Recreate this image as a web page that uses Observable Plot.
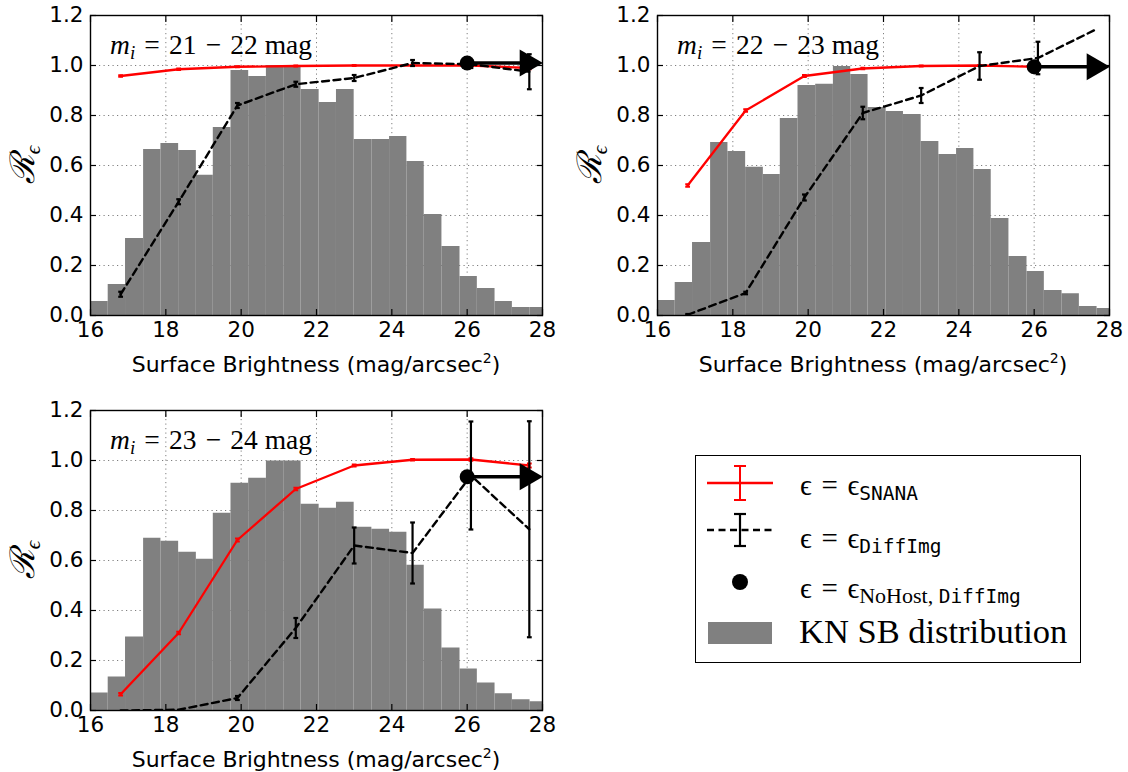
<!DOCTYPE html>
<html><head><meta charset="utf-8">
<script src="https://cdn.jsdelivr.net/npm/d3@7"></script>
<script src="https://cdn.jsdelivr.net/npm/@observablehq/plot@0.6"></script>
<style>
body{margin:0;background:#fff;}
#root{position:relative;width:1128px;height:772px;overflow:hidden;background:#fff;}
.panel{position:absolute;}
#legend{position:absolute;left:695px;top:455px;width:386px;height:208px;box-sizing:border-box;border:1.3px solid #000;background:#fff;}
</style></head>
<body><div id="root"></div>
<script>
// ---------- data ----------
const xTicks = [16, 18, 20, 22, 24, 26, 28];
const yTicks = [0, 0.2, 0.4, 0.6, 0.8, 1.0, 1.2];
const binEdges = [16.0,16.47,16.93,17.41,17.87,18.34,18.81,19.26,19.73,20.2,20.67,21.13,21.59,22.07,22.53,23.0,23.47,23.94,24.4,24.86,25.33,25.81,26.27,26.74,27.2,27.67,28.13];
const hist1 = [0.056,0.124,0.308,0.664,0.688,0.66,0.561,0.752,0.98,0.956,1.0,1.0,0.904,0.852,0.904,0.704,0.704,0.716,0.616,0.404,0.276,0.156,0.108,0.056,0.032,0.032];
const hist2 = [0.06,0.132,0.292,0.692,0.656,0.593,0.564,0.788,0.92,0.925,0.996,0.964,0.832,0.816,0.804,0.696,0.644,0.668,0.584,0.388,0.236,0.176,0.1,0.087,0.036,0.028];
const hist3 = [0.07,0.134,0.294,0.689,0.677,0.633,0.605,0.789,0.909,0.929,0.998,0.998,0.825,0.809,0.833,0.733,0.725,0.713,0.581,0.406,0.25,0.166,0.11,0.067,0.043,0.035];
const sbPoints = [16.8, 18.34, 19.9, 21.45, 23.0, 24.55, 26.1, 27.65];
const snana1 = [0.958,0.985,0.995,0.998,1.0,1.0,1.0,0.99];
const snanaErr1 = [0.003,0.003,0.002,0.002,0.002,0.002,0.003,0.005];
const diff1 = [0.085,0.455,0.84,0.925,0.95,1.01,1.005,0.975];
const diffErr1 = [0.01,0.01,0.01,0.01,0.012,0.012,0.015,0.07];
const snana2 = [0.52,0.82,0.958,0.988,0.998,1.0,0.995,0.995];
const snanaErr2 = [0.005,0.005,0.004,0.003,0.002,0.002,0.003,0.004];
const diff2 = [0.003,0.09,0.472,0.81,0.88,0.998,1.03,1.145];
const diffErr2 = [0.003,0.005,0.012,0.025,0.03,0.055,0.065,0];
const snana3 = [0.065,0.31,0.682,0.886,0.98,1.003,1.004,0.98];
const snanaErr3 = [0.005,0.005,0.006,0.005,0.004,0.003,0.005,0.008];
const diff3 = [0.0,0.003,0.05,0.33,0.66,0.63,0.94,0.725];
const diffErr3 = [0.0,0.0,0.008,0.04,0.072,0.122,0.216,0.432];
const noHostX = 26.0;
const noHost = [1.01, 0.995, 0.935];
const arrowHeadX = 27.6;
const panelRanges = [["21", "22"], ["22", "23"], ["23", "24"]];
const xLabel = "Surface Brightness (mag/arcsec";

// ---------- drawing ----------
const SERIF = "'Liberation Serif','DejaVu Serif',serif";
const SP = "\u2004";
const capSymbol = {draw(ctx, size) { const r = Math.sqrt(size / Math.PI); ctx.moveTo(-r, 0); ctx.lineTo(r, 0); }};

function makePanel(hist, snana, snanaErr, diff, diffErr, nh, range) {
  const bars = hist.map((h, k) => ({x1: binEdges[k], x2: binEdges[k + 1], h}));
  const pts = sbPoints.map((x, k) => ({x, s: snana[k], se: snanaErr[k], d: diff[k], de: diffErr[k]}));
  const errPts = pts.filter(p => p.de > 0);
  const nhd = [{x: noHostX, y: nh, xe: arrowHeadX}];
  const W = 561, H = 370, ML = 90, MR = 19, MT = 15, MB = 55;
  const svg = Plot.plot({
    width: W, height: H, marginLeft: ML, marginRight: MR, marginTop: MT, marginBottom: MB,
    x: {domain: [16, 28]},
    y: {domain: [0, 1.2]},
    style: {fontFamily: "'DejaVu Sans',sans-serif", fontSize: "21.5px", color: "#000", background: "#fff", overflow: "visible"},
    marks: [
      Plot.gridX(xTicks, {stroke: "#000", strokeOpacity: 0.5, strokeDasharray: "1.2,3.3", strokeWidth: 1}),
      Plot.gridY(yTicks, {stroke: "#000", strokeOpacity: 0.5, strokeDasharray: "1.2,3.3", strokeWidth: 1}),
      Plot.rectY(bars, {x1: "x1", x2: "x2", y: "h", fill: "#808080", clip: true}),
      Plot.line(pts, {x: "x", y: "s", stroke: "#ff0000", strokeWidth: 2.3, clip: true}),
      Plot.ruleX(pts, {x: "x", y1: d => d.s - d.se, y2: d => d.s + d.se, stroke: "#ff0000", strokeWidth: 2}),
      Plot.dot(pts, {x: "x", y: d => d.s - d.se, symbol: capSymbol, r: 2.4, stroke: "#ff0000", strokeWidth: 2}),
      Plot.dot(pts, {x: "x", y: d => d.s + d.se, symbol: capSymbol, r: 2.4, stroke: "#ff0000", strokeWidth: 2}),
      Plot.line(pts, {x: "x", y: "d", stroke: "#000", strokeWidth: 2.4, strokeDasharray: "7,4.5", clip: true}),
      Plot.ruleX(errPts, {x: "x", y1: d => d.d - d.de, y2: d => d.d + d.de, stroke: "#000", strokeWidth: 2.2, clip: true}),
      Plot.dot(errPts, {x: "x", y: d => d.d - d.de, symbol: capSymbol, r: 2.4, stroke: "#000", strokeWidth: 2.2, clip: true}),
      Plot.dot(errPts, {x: "x", y: d => d.d + d.de, symbol: capSymbol, r: 2.4, stroke: "#000", strokeWidth: 2.2, clip: true}),
      Plot.link(nhd, {x1: "x", x2: "xe", y1: "y", y2: "y", stroke: "#000", strokeWidth: 3.5}),
      Plot.dot(nhd, {x: "xe", y: "y", symbol: "triangle", rotate: 90, r: 10, fill: "#000"}),
      Plot.dot(nhd, {x: "x", y: "y", r: 7.5, fill: "#000"}),
      Plot.frame({stroke: "#000", strokeWidth: 1.4}),
      Plot.axisX(xTicks, {anchor: "bottom", tickSize: -6, tickFormat: () => "", label: null, strokeWidth: 1.2}),
      Plot.axisX(xTicks, {anchor: "top", tickSize: -6, tickFormat: () => "", label: null, strokeWidth: 1.2}),
      Plot.axisY(yTicks, {anchor: "left", tickSize: -6, tickFormat: () => "", label: null, strokeWidth: 1.2}),
      Plot.axisY(yTicks, {anchor: "right", tickSize: -6, tickFormat: () => "", label: null, strokeWidth: 1.2}),
      Plot.axisX(xTicks, {anchor: "bottom", tickSize: 0, tickPadding: 6, tickFormat: d => String(d), label: null, fontSize: 21.5}),
      Plot.axisY(yTicks, {anchor: "left", tickSize: 0, tickPadding: 7, tickFormat: d3.format(".1f"), label: null, fontSize: 21.5})
    ]
  });
  const s = d3.select(svg);
  const cx = ML + (W - ML - MR) / 2, cy = MT + (H - MT - MB) / 2;
  // x label
  const xl = s.append("text").attr("x", cx).attr("y", MT + 300 + 57).attr("text-anchor", "middle")
    .attr("font-family", "'DejaVu Sans',sans-serif").attr("font-size", 22).attr("fill", "#000");
  xl.append("tspan").text(xLabel);
  xl.append("tspan").attr("dy", -9).attr("font-size", 14).text("2");
  xl.append("tspan").attr("dy", 9).text(")");
  // y label
  const yl = s.append("text").attr("transform", `translate(34,${cy}) rotate(-90)`).attr("text-anchor", "middle")
    .attr("font-family", SERIF).attr("font-size", 34).attr("fill", "#000");
  yl.append("tspan").attr("font-style", "italic").text("ℛ");
  yl.append("tspan").attr("dy", 6).attr("font-size", 21).attr("font-style", "italic").text("ϵ");
  // annotation
  const an = s.append("text").attr("x", ML + 20).attr("y", MT + 39).attr("text-anchor", "start")
    .attr("font-family", SERIF).attr("font-size", 27.5).attr("fill", "#000");
  an.append("tspan").attr("font-style", "italic").text("m");
  an.append("tspan").attr("font-style", "italic").attr("font-size", 19).attr("dy", 5).text("i");
  an.append("tspan").attr("dy", -5).text(SP + "=" + SP + range[0] + SP + "−" + SP + range[1] + " mag");
  return svg;
}

const root = document.getElementById("root");
const specs = [
  [hist1, snana1, snanaErr1, diff1, diffErr1, noHost[0], panelRanges[0], 0, 0],
  [hist2, snana2, snanaErr2, diff2, diffErr2, noHost[1], panelRanges[1], 567, 0],
  [hist3, snana3, snanaErr3, diff3, diffErr3, noHost[2], panelRanges[2], 0, 395]
];
for (const sp of specs) {
  const svg = makePanel(...sp.slice(0, 7));
  const div = document.createElement("div");
  div.className = "panel";
  div.style.left = sp[7] + "px";
  div.style.top = sp[8] + "px";
  div.appendChild(svg);
  root.appendChild(div);
}

// legend
const leg = document.createElement("div");
leg.id = "legend";
root.appendChild(leg);
const ls = d3.select(leg).append("svg").attr("width", 384).attr("height", 206).style("position", "absolute").style("left", "0").style("top", "0");
// red entry
ls.append("line").attr("x1", 11).attr("x2", 77).attr("y1", 27).attr("y2", 27).attr("stroke", "#ff0000").attr("stroke-width", 2.3);
ls.append("line").attr("x1", 44).attr("x2", 44).attr("y1", 10).attr("y2", 44).attr("stroke", "#ff0000").attr("stroke-width", 2);
ls.append("line").attr("x1", 38).attr("x2", 50).attr("y1", 10).attr("y2", 10).attr("stroke", "#ff0000").attr("stroke-width", 2);
ls.append("line").attr("x1", 38).attr("x2", 50).attr("y1", 44).attr("y2", 44).attr("stroke", "#ff0000").attr("stroke-width", 2);
// black dashed entry
ls.append("line").attr("x1", 11).attr("x2", 77).attr("y1", 74).attr("y2", 74).attr("stroke", "#000").attr("stroke-width", 2.4).attr("stroke-dasharray", "7,4.5");
ls.append("line").attr("x1", 44).attr("x2", 44).attr("y1", 58).attr("y2", 90).attr("stroke", "#000").attr("stroke-width", 2.2);
ls.append("line").attr("x1", 38).attr("x2", 50).attr("y1", 58).attr("y2", 58).attr("stroke", "#000").attr("stroke-width", 2.2);
ls.append("line").attr("x1", 38).attr("x2", 50).attr("y1", 90).attr("y2", 90).attr("stroke", "#000").attr("stroke-width", 2.2);
// dot entry
ls.append("circle").attr("cx", 44).attr("cy", 126).attr("r", 8).attr("fill", "#000");
// hist entry
ls.append("rect").attr("x", 12).attr("y", 166).attr("width", 64).attr("height", 22).attr("fill", "#808080");
function legText(y, parts) {
  const t = ls.append("text").attr("x", 104).attr("y", y).attr("font-family", SERIF).attr("font-size", 29).attr("fill", "#000");
  t.append("tspan").text("ϵ" + SP + "=" + SP + "ϵ");
  let first = true;
  for (const [txt, mono] of parts) {
    const sp = t.append("tspan").attr("font-size", mono ? 19.5 : 22).text(txt);
    if (mono) sp.attr("font-family", "'DejaVu Sans Mono',monospace");
    if (first) { sp.attr("dy", 5); first = false; }
  }
}
legText(39, [["SNANA", true]]);
legText(92, [["DiffImg", true]]);
legText(142, [["NoHost, ", false], ["DiffImg", true]]);
ls.append("text").attr("x", 103).attr("y", 187).attr("font-family", SERIF).attr("font-size", 34.5).attr("fill", "#000").text("KN SB distribution");
</script>
</body></html>
